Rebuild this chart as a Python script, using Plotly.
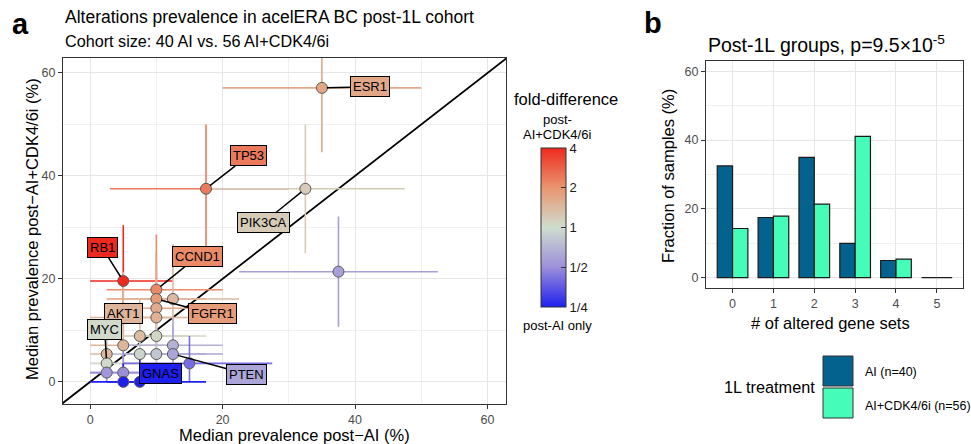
import plotly.graph_objects as go
from plotly.colors import sample_colorscale

W, H = 971, 444
FONT = "Liberation Sans"

# ---------------- Panel a data ----------------
genes = ["ESR1", "TP53", "PIK3CA", "", "RB1", "CCND1", "FGFR1", "", "", "",
         "AKT1", "", "", "", "", "MYC", "", "", "", "PTEN", "", "", "", "", "GNAS"]
post_ai = [35, 17.5, 32.5, 37.5, 5, 10, 10, 12.5, 10, 10,
           5, 5, 7.5, 10, 2.5, 2.5, 7.5, 10, 12.5, 12.5, 15, 2.5, 5, 5, 7.5]
post_ai_lo = [20, 3, 17.5, 22.5, 0, 2.5, 2.5, 5, 2.5, 2.5,
              0, 0, 2.5, 2.5, 0, 0, 2.5, 2.5, 5, 5, 5, 0, 0, 0, 2.5]
post_ai_hi = [50, 30, 47.5, 52.5, 12.5, 20, 17.5, 22.5, 17.5, 17.5,
              12.5, 12.5, 15, 17.5, 7.5, 7.5, 15, 17.5, 20, 20, 27.5, 7.5, 10, 12.5, 17.5]
post_cdk = [57.1, 37.5, 37.5, 21.4, 19.6, 17.9, 16.1, 16.1, 14.3, 12.5,
            12.5, 7.1, 8.9, 8.9, 5.4, 3.6, 5.4, 5.4, 7.1, 5.4, 3.6, 1.8, 1.8, 0, 0]
post_cdk_lo = [44.6, 25, 25, 10.7, 12.5, 10.7, 8.9, 8.9, 7.1, 5.4,
               5.4, 1.8, 3.6, 3.6, 1.8, 0, 1.8, 1.8, 1.8, 1.8, 0, 0, 0, 0, 0]
post_cdk_hi = [66, 50, 50, 32.1, 30.4, 28.6, 25, 26.8, 23.2, 21.4,
               21.4, 14.3, 16.1, 16.1, 10.7, 8.9, 10.7, 10.7, 12.5, 10.7, 8.9, 5.4, 7.1, 3.6, 5.4]
log2_fold = [0.75, 1.25, 0.25, -0.8, 2.0, 1.1, 0.9, 0.5, 0.7, 0.6,
             0.55, 0.55, 0.45, 0.1, 0.5, 0.05, -0.1, -0.3, -0.55, -0.7, -1.3, -0.9, -1.0, -2.0, -2.0]

fold_ticks = [-2, -1, 0, 1, 2]
fold_tick_labels = ["1/4", "1/2", "1", "2", "4"]

# ---------------- Panel b data ----------------
n_sets = [0, 1, 2, 3, 4, 5]
frac_ai = [32.5, 17.5, 35.0, 10.0, 5.0, 0.0]
frac_cdk = [14.3, 17.9, 21.4, 41.1, 5.4, 0.0]
group_names = ["AI (n=40)", "AI+CDK4/6i (n=56)"]

# ---------------- styles ----------------
fold_scale = [[0.0, "#1F1FEF"], [0.25, "#9C8FDA"], [0.5, "#CFDDCF"],
              [0.75, "#E9956F"], [1.0, "#EE2A1F"]]
pt_colors = sample_colorscale(fold_scale, [(v + 2) / 4 for v in log2_fold])
col_ai, col_cdk = "#04628F", "#45FDB8"

label_offsets = {"ESR1": (48, -1), "TP53": (42, -33), "PIK3CA": (-42, 34),
                 "CCND1": (41, -33), "FGFR1": (56, 15), "PTEN": (74, 20),
                 "GNAS": (21, -8), "AKT1": (0, -4), "MYC": (-2, -34), "RB1": (-21, -33)}
hidden_arrow = {"GNAS", "AKT1"}


def fx(p):
    return p / W


def fy(p):
    return 1 - p / H


fig = go.Figure()

# diagonal y = x
fig.add_trace(go.Scatter(x=[-10, 80], y=[-10, 80], mode="lines",
                         line=dict(color="black", width=1.8),
                         hoverinfo="skip", showlegend=False))

# error bars
for i in range(len(post_ai)):
    fig.add_trace(go.Scatter(
        x=[post_ai_lo[i], post_ai_hi[i], None, post_ai[i], post_ai[i]],
        y=[post_cdk[i], post_cdk[i], None, post_cdk_lo[i], post_cdk_hi[i]],
        mode="lines", line=dict(color=pt_colors[i], width=1.6),
        hoverinfo="skip", showlegend=False))

# points with colour bar
fig.add_trace(go.Scatter(
    x=post_ai, y=post_cdk, mode="markers", showlegend=False,
    marker=dict(size=11, color=log2_fold, colorscale=fold_scale, cmin=-2, cmax=2,
                line=dict(color="#5a5a5a", width=1),
                showscale=True,
                colorbar=dict(x=fx(541), xanchor="left", xpad=0,
                              y=fy(227.5), yanchor="middle", ypad=0,
                              len=159, lenmode="pixels", thickness=25,
                              outlinewidth=1, outlinecolor="#333333",
                              tickvals=fold_ticks, ticktext=fold_tick_labels,
                              ticks="inside", ticklen=5, tickcolor="#333333",
                              tickfont=dict(family=FONT, size=13, color="#1a1a1a"))),
    xaxis="x", yaxis="y"))

# bars
fig.add_trace(go.Bar(x=n_sets, y=frac_ai, name=group_names[0], marker=dict(
    color=col_ai, line=dict(color="#1a1a1a", width=1.2)), xaxis="x2", yaxis="y2",
    showlegend=False))
fig.add_trace(go.Bar(x=n_sets, y=frac_cdk, name=group_names[1], marker=dict(
    color=col_cdk, line=dict(color="#1a1a1a", width=1.2)), xaxis="x2", yaxis="y2",
    showlegend=False))

annotations = []
for i, g in enumerate(genes):
    if not g:
        continue
    ax, ay = label_offsets[g]
    annotations.append(dict(
        x=post_ai[i], y=post_cdk[i], xref="x", yref="y", text=g,
        showarrow=True, arrowhead=0, arrowwidth=1.5,
        arrowcolor="rgba(0,0,0,0)" if g in hidden_arrow else "black",
        ax=ax, ay=ay, standoff=5,
        bgcolor=pt_colors[i], bordercolor="black", borderwidth=1, borderpad=2,
        font=dict(family=FONT, size=13, color="black")))


def txt(x, y, s, size, xanchor="left", bold=False, color="black", angle=0):
    annotations.append(dict(x=fx(x), y=fy(y), xref="paper", yref="paper",
                            text=f"<b>{s}</b>" if bold else s, showarrow=False,
                            xanchor=xanchor, yanchor="middle", textangle=angle,
                            font=dict(family=FONT, size=size, color=color)))


txt(10, 24, "a", 29, bold=True)
txt(642, 23, "b", 29, bold=True)
txt(63, 17, "Alterations prevalence in acelERA BC post-1L cohort", 17.5)
txt(63, 41, "Cohort size: 40 AI vs. 56 AI+CDK4/6i", 16.2)
txt(294, 435, "Median prevalence post\u2212AI (%)", 16.5, xanchor="center")
txt(32, 229, "Median prevalence post\u2212AI+CDK4/6i (%)", 16.5, xanchor="center", angle=-90)
txt(566, 99, "fold-difference", 16.5, xanchor="center")
txt(557, 119, "post-", 13, xanchor="center")
txt(557, 134, "AI+CDK4/6i", 13, xanchor="center")
txt(557, 325, "post-AI only", 13, xanchor="center")
txt(706, 44, "Post-1L groups, p=9.5\u00d710<sup>-5</sup>", 19.5)
txt(668, 176, "Fraction of samples (%)", 16.5, xanchor="center", angle=-90)
txt(830, 323, "# of altered gene sets", 16.5, xanchor="center")
txt(817, 387, "1L treatment", 16.3, xanchor="right")
txt(863, 372, group_names[0], 12.5)
txt(863, 406, group_names[1], 12.5)

shapes = [
    dict(type="rect", xref="paper", yref="paper", x0=fx(823), x1=fx(853),
         y0=fy(356), y1=fy(386), fillcolor=col_ai, line=dict(color="#333333", width=1)),
    dict(type="rect", xref="paper", yref="paper", x0=fx(823), x1=fx(853),
         y0=fy(388), y1=fy(418), fillcolor=col_cdk, line=dict(color="#333333", width=1)),
]

axis_common = dict(showline=True, mirror=True, linecolor="#333333", linewidth=1.1,
                   ticks="outside", ticklen=4, tickcolor="#333333",
                   tickfont=dict(family=FONT, size=12.5, color="#4D4D4D"),
                   gridcolor="#E6E6E6", gridwidth=1.1, zeroline=False, automargin=False)
minor = dict(showgrid=True, gridcolor="#F0F0F0", gridwidth=0.8, ticks="")

fig.update_layout(
    width=W, height=H, margin=dict(l=0, r=0, t=0, b=0),
    paper_bgcolor="white", plot_bgcolor="white",
    barmode="group", bargap=0.25, bargroupgap=0,
    xaxis=dict(domain=[fx(63), fx(506)], range=[-4.1, 62.8], tickvals=[0, 20, 40, 60],
               minor=dict(tickvals=[10, 30, 50], **minor), **axis_common),
    yaxis=dict(domain=[fy(404), fy(57.5)], range=[-4.3, 63.0], tickvals=[0, 20, 40, 60],
               minor=dict(tickvals=[10, 30, 50], **minor), **axis_common),
    xaxis2=dict(domain=[fx(706), fx(963)], range=[-0.65, 5.64], tickvals=n_sets,
                anchor="y2", **axis_common),
    yaxis2=dict(domain=[fy(288), fy(61)], range=[-3, 63], tickvals=[0, 20, 40, 60],
                minor=dict(tickvals=[10, 30, 50], **minor), anchor="x2", **axis_common),
    annotations=annotations, shapes=shapes,
    font=dict(family=FONT),
)

fig.write_html("out.html", config={"displayModeBar": False},
               post_script="document.body.style.margin='0';document.body.style.overflow='hidden';")
